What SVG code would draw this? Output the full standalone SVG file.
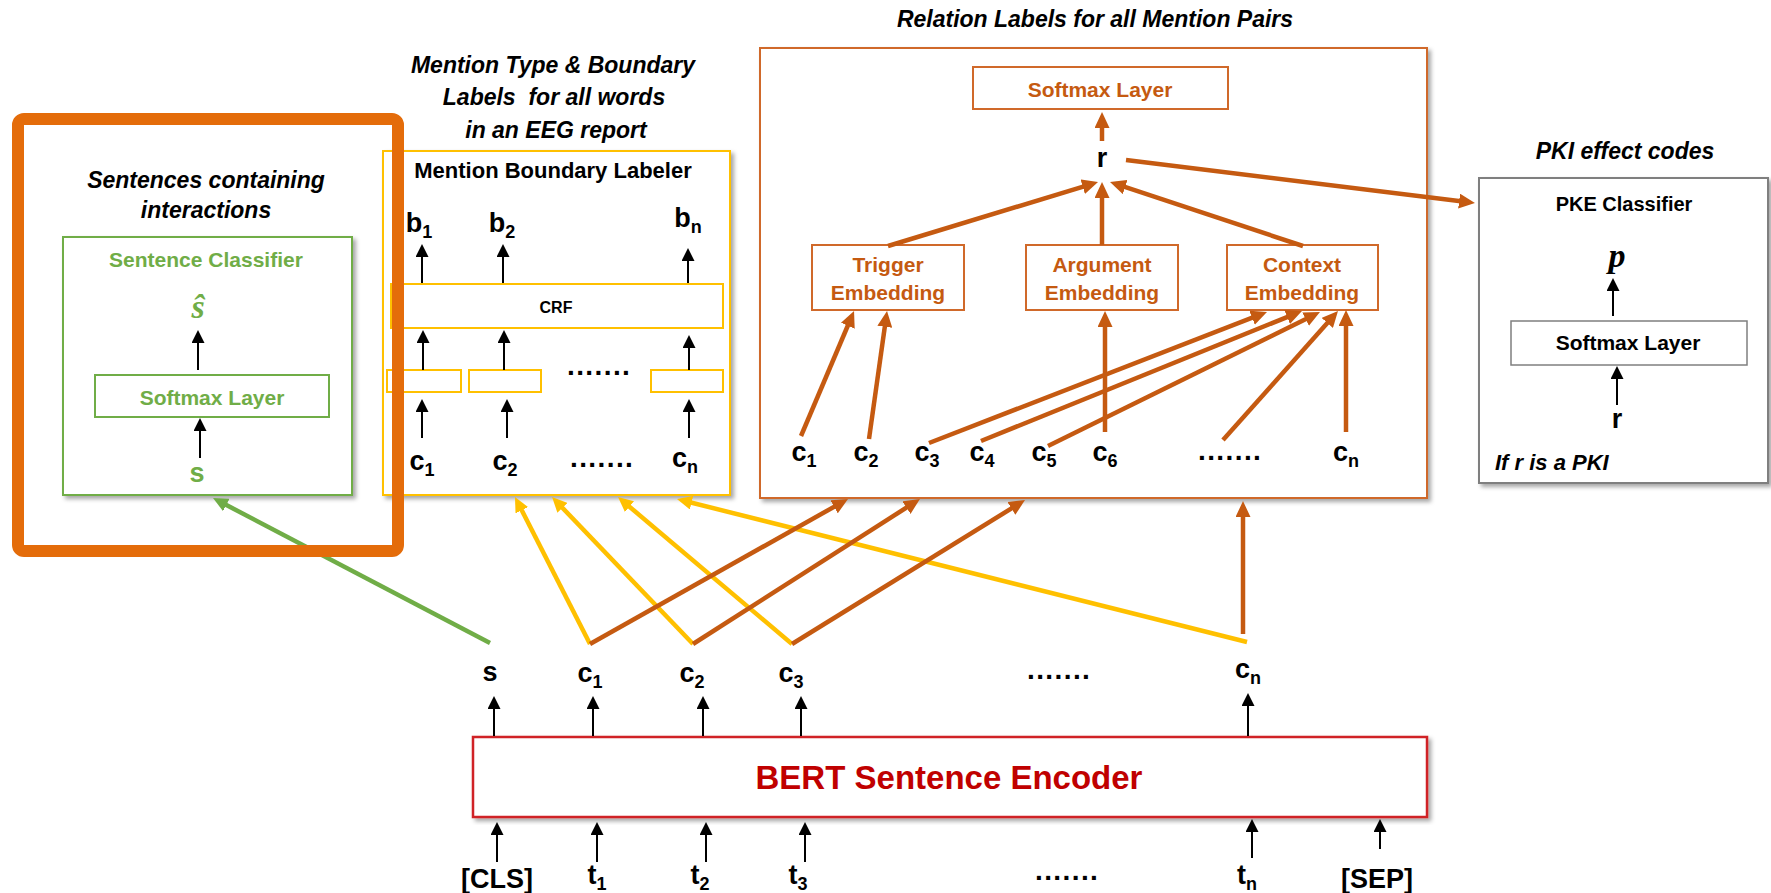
<svg xmlns="http://www.w3.org/2000/svg" width="1771" height="893" viewBox="0 0 1771 893">
  <style>
    text { font-family: "Liberation Sans", Arial, sans-serif; font-weight: bold; }
    .mid { text-anchor: middle; }
    .title { font-style: italic; font-size: 23px; fill: #000; text-anchor: middle; }
    .lbl { font-size: 27px; fill: #000; text-anchor: middle; }
    .sub { font-size: 18px; }
    .dots { font-size: 28px; letter-spacing: 1.4px; fill: #000; }
    .box { fill: #fff; }
    .green { stroke: #70AD47; }
    .yellow { stroke: #FFC000; }
    .rust { stroke: #D0692A; }
    .gray { stroke: #7F7F7F; }
    .blk { stroke: #000; stroke-width: 2; fill: none; marker-end: url(#ahBlack); }
    .orn { stroke: #C55A11; stroke-width: 4.5; fill: none; marker-end: url(#ahRust); }
    .ylw { stroke: #FFC000; stroke-width: 4.5; fill: none; marker-end: url(#ahYellow); }
    .grn { stroke: #70AD47; stroke-width: 4.5; fill: none; marker-end: url(#ahGreen); }
    .serif { font-family: "Liberation Serif", "Times New Roman", serif; font-style: italic; }
  </style>
  <defs>
    <filter id="shadow" x="-5%" y="-5%" width="115%" height="115%">
      <feDropShadow dx="3" dy="3" stdDeviation="2" flood-color="#000" flood-opacity="0.35"/>
    </filter>
    <marker id="ahBlack" markerUnits="userSpaceOnUse" markerWidth="13" markerHeight="13" refX="10" refY="6.5" orient="auto">
      <path d="M0,0 L13,6.5 L0,13 z" fill="#000"/>
    </marker>
    <marker id="ahRust" markerUnits="userSpaceOnUse" markerWidth="16" markerHeight="15" refX="10" refY="7.5" orient="auto">
      <path d="M0,0 L16,7.5 L0,15 z" fill="#C55A11"/>
    </marker>
    <marker id="ahYellow" markerUnits="userSpaceOnUse" markerWidth="15" markerHeight="14" refX="9" refY="7" orient="auto">
      <path d="M0,0 L15,7 L0,14 z" fill="#FFC000"/>
    </marker>
    <marker id="ahGreen" markerUnits="userSpaceOnUse" markerWidth="15" markerHeight="14" refX="9" refY="7" orient="auto">
      <path d="M0,0 L15,7 L0,14 z" fill="#70AD47"/>
    </marker>
  </defs>

  <rect width="1771" height="893" fill="#fff"/>

  <!-- Sentence classifier -->
  <g id="sentence-classifier">
    <text class="title" x="206" y="188">Sentences containing</text>
    <text class="title" x="206" y="218">interactions</text>
    <rect class="box green" x="63" y="237" width="289" height="258" stroke-width="2" filter="url(#shadow)"/>
    <text class="mid" x="206" y="267" font-size="21" fill="#70AD47">Sentence Classifier</text>
    <text class="mid serif" x="198" y="318" font-size="34" fill="#70AD47">ŝ</text>
    <rect class="box green" x="95" y="375" width="234" height="42" stroke-width="2"/>
    <text class="mid" x="212" y="405" font-size="21" fill="#70AD47">Softmax Layer</text>
    <text class="mid" x="197" y="482" font-size="27" fill="#70AD47">s</text>
  </g>

  <!-- Mention boundary labeler -->
  <g id="mention-labeler">
    <text class="title" x="553" y="73">Mention Type &amp; Boundary</text>
    <text class="title" x="554" y="105" xml:space="preserve">Labels  for all words</text>
    <text class="title" x="556" y="138">in an EEG report</text>
    <rect class="box yellow" x="383" y="151" width="347" height="344" stroke-width="2" filter="url(#shadow)"/>
    <text class="mid" x="553" y="178" font-size="22" fill="#000">Mention Boundary Labeler</text>
    <text class="lbl" x="419" y="232">b<tspan class="sub" dy="6">1</tspan></text>
    <text class="lbl" x="502" y="232">b<tspan class="sub" dy="6">2</tspan></text>
    <text class="lbl" x="688" y="227">b<tspan class="sub" dy="6">n</tspan></text>
    <rect class="box yellow" x="391" y="284" width="332" height="44" stroke-width="2"/>
    <text class="mid" x="556" y="313" font-size="16" fill="#000">CRF</text>
    <rect class="box yellow" x="387" y="370" width="74" height="22" stroke-width="2"/>
    <rect class="box yellow" x="469" y="370" width="72" height="22" stroke-width="2"/>
    <rect class="box yellow" x="651" y="370" width="72" height="22" stroke-width="2"/>
    <text class="dots" x="567" y="375">.......</text>
    <text class="lbl" x="422" y="470">c<tspan class="sub" dy="6">1</tspan></text>
    <text class="lbl" x="505" y="470">c<tspan class="sub" dy="6">2</tspan></text>
    <text class="dots" x="570" y="467">.......</text>
    <text class="lbl" x="685" y="467">c<tspan class="sub" dy="6">n</tspan></text>
  </g>

  <!-- Relation classifier -->
  <g id="relation-classifier">
    <text class="title" x="1095" y="27">Relation Labels for all Mention Pairs</text>
    <rect class="box rust" x="760" y="48" width="667" height="450" stroke-width="2" filter="url(#shadow)"/>
    <rect class="box rust" x="973" y="67" width="255" height="42" stroke-width="2"/>
    <text class="mid" x="1100" y="97" font-size="21" fill="#C55A11">Softmax Layer</text>
    <text class="lbl" x="1102" y="167">r</text>
    <rect class="box rust" x="812" y="245" width="152" height="65" stroke-width="2"/>
    <text class="mid" x="888" y="272" font-size="21" fill="#C55A11">Trigger</text>
    <text class="mid" x="888" y="300" font-size="21" fill="#C55A11">Embedding</text>
    <rect class="box rust" x="1026" y="245" width="152" height="65" stroke-width="2"/>
    <text class="mid" x="1102" y="272" font-size="21" fill="#C55A11">Argument</text>
    <text class="mid" x="1102" y="300" font-size="21" fill="#C55A11">Embedding</text>
    <rect class="box rust" x="1227" y="245" width="151" height="65" stroke-width="2"/>
    <text class="mid" x="1302" y="272" font-size="21" fill="#C55A11">Context</text>
    <text class="mid" x="1302" y="300" font-size="21" fill="#C55A11">Embedding</text>
    <text class="lbl" x="804" y="461">c<tspan class="sub" dy="6">1</tspan></text>
    <text class="lbl" x="866" y="461">c<tspan class="sub" dy="6">2</tspan></text>
    <text class="lbl" x="927" y="461">c<tspan class="sub" dy="6">3</tspan></text>
    <text class="lbl" x="982" y="461">c<tspan class="sub" dy="6">4</tspan></text>
    <text class="lbl" x="1044" y="461">c<tspan class="sub" dy="6">5</tspan></text>
    <text class="lbl" x="1105" y="461">c<tspan class="sub" dy="6">6</tspan></text>
    <text class="dots" x="1198" y="460">.......</text>
    <text class="lbl" x="1346" y="461">c<tspan class="sub" dy="6">n</tspan></text>
  </g>

  <!-- PKI effect classifier -->
  <g id="pke-classifier">
    <text class="title" x="1625" y="159">PKI effect codes</text>
    <rect class="box gray" x="1479" y="178" width="289" height="305" stroke-width="2" filter="url(#shadow)"/>
    <text class="mid" x="1624" y="211" font-size="20" fill="#000">PKE Classifier</text>
    <text class="mid serif" x="1617" y="267" font-size="34" fill="#000">p</text>
    <rect class="box gray" x="1511" y="321" width="236" height="44" stroke-width="1.5"/>
    <text class="mid" x="1628" y="350" font-size="21" fill="#000">Softmax Layer</text>
    <text class="lbl" x="1617" y="428">r</text>
    <text x="1495" y="470" font-size="22" font-style="italic" fill="#000">If r is a PKI</text>
  </g>

  <!-- BERT encoder with its outputs and inputs -->
  <g id="bert-encoder">
    <rect class="box" x="473" y="737" width="954" height="80" stroke="#D02028" stroke-width="2.5" filter="url(#shadow)"/>
    <text class="mid" x="949" y="789" font-size="33" fill="#C00000">BERT Sentence Encoder</text>
  </g>
  <g id="encoder-outputs">
    <text class="lbl" x="490" y="681">s</text>
    <text class="lbl" x="590" y="682">c<tspan class="sub" dy="6">1</tspan></text>
    <text class="lbl" x="692" y="682">c<tspan class="sub" dy="6">2</tspan></text>
    <text class="lbl" x="791" y="682">c<tspan class="sub" dy="6">3</tspan></text>
    <text class="dots" x="1027" y="679">.......</text>
    <text class="lbl" x="1248" y="678">c<tspan class="sub" dy="6">n</tspan></text>
  </g>
  <g id="encoder-inputs">
    <text class="lbl" x="497" y="888" font-size="24">[CLS]</text>
    <text class="lbl" x="597" y="884">t<tspan class="sub" dy="6">1</tspan></text>
    <text class="lbl" x="700" y="884">t<tspan class="sub" dy="6">2</tspan></text>
    <text class="lbl" x="798" y="884">t<tspan class="sub" dy="6">3</tspan></text>
    <text class="dots" x="1035" y="880">.......</text>
    <text class="lbl" x="1247" y="884">t<tspan class="sub" dy="6">n</tspan></text>
    <text class="lbl" x="1377" y="888" font-size="24">[SEP]</text>
  </g>

  <g id="connectors">
    <!-- sentence classifier internals -->
    <line class="blk" x1="198" y1="370" x2="198" y2="333"/>
    <line class="blk" x1="200" y1="458" x2="200" y2="421"/>
    <!-- mention labeler internals -->
    <line class="blk" x1="422" y1="283" x2="422" y2="247"/>
    <line class="blk" x1="503" y1="283" x2="503" y2="247"/>
    <line class="blk" x1="688" y1="283" x2="688" y2="251"/>
    <line class="blk" x1="423" y1="370" x2="423" y2="333"/>
    <line class="blk" x1="504" y1="370" x2="504" y2="333"/>
    <line class="blk" x1="689" y1="370" x2="689" y2="338"/>
    <line class="blk" x1="422" y1="438" x2="422" y2="402"/>
    <line class="blk" x1="507" y1="438" x2="507" y2="402"/>
    <line class="blk" x1="689" y1="438" x2="689" y2="402"/>
    <!-- PKE internals -->
    <line class="blk" x1="1613" y1="316" x2="1613" y2="281"/>
    <line class="blk" x1="1617" y1="405" x2="1617" y2="369"/>
    <!-- encoder outputs -->
    <line class="blk" x1="494" y1="736" x2="494" y2="699"/>
    <line class="blk" x1="593" y1="736" x2="593" y2="699"/>
    <line class="blk" x1="703" y1="736" x2="703" y2="699"/>
    <line class="blk" x1="801" y1="736" x2="801" y2="699"/>
    <line class="blk" x1="1248" y1="736" x2="1248" y2="696"/>
    <!-- encoder inputs -->
    <line class="blk" x1="497" y1="862" x2="497" y2="825"/>
    <line class="blk" x1="597" y1="862" x2="597" y2="825"/>
    <line class="blk" x1="706" y1="862" x2="706" y2="825"/>
    <line class="blk" x1="805" y1="862" x2="805" y2="825"/>
    <line class="blk" x1="1252" y1="858" x2="1252" y2="822"/>
    <line class="blk" x1="1380" y1="849" x2="1380" y2="822"/>

    <!-- token vectors to the mention labeler -->
    <line class="ylw" x1="590" y1="644" x2="517.7" y2="502.3"/>
    <line class="ylw" x1="693" y1="644" x2="556.2" y2="501.3"/>
    <line class="ylw" x1="792" y1="644" x2="622.6" y2="500.9"/>
    <line class="ylw" x1="1247" y1="642" x2="682.8" y2="500.5"/>

    <!-- sentence vector to the sentence classifier -->
    <line class="grn" x1="490" y1="643" x2="218.3" y2="500.8"/>

    <!-- token vectors to the relation classifier -->
    <line class="orn" x1="590" y1="644" x2="842.8" y2="501.9"/>
    <line class="orn" x1="693" y1="644" x2="914.9" y2="502.2"/>
    <line class="orn" x1="792" y1="644" x2="1019.9" y2="503.2"/>
    <line class="orn" x1="1243" y1="634" x2="1243" y2="507"/>

    <!-- relation classifier internals -->
    <line class="orn" x1="1102" y1="141" x2="1102" y2="118"/>
    <line class="orn" x1="888" y1="246" x2="1092.3" y2="183.8"/>
    <line class="orn" x1="1102" y1="245" x2="1102" y2="188"/>
    <line class="orn" x1="1303" y1="246" x2="1115.7" y2="183.9"/>
    <line class="orn" x1="801" y1="436" x2="851.7" y2="316.5"/>
    <line class="orn" x1="869" y1="439" x2="886.2" y2="316.9"/>
    <line class="orn" x1="1105" y1="432" x2="1105" y2="317"/>
    <line class="orn" x1="929" y1="443" x2="1261.4" y2="314.2"/>
    <line class="orn" x1="981" y1="441" x2="1296.4" y2="313.3"/>
    <line class="orn" x1="1048" y1="446" x2="1314.6" y2="314.7"/>
    <line class="orn" x1="1223" y1="440" x2="1334" y2="315.5"/>
    <line class="orn" x1="1346" y1="432" x2="1346" y2="316"/>

    <!-- relation to PKI effect classifier -->
    <line class="orn" x1="1126" y1="160" x2="1469" y2="202.3"/>
  </g>

  <!-- highlight frame around the sentence classifier -->
  <g id="highlight">
    <rect x="18" y="119" width="380" height="432" rx="6" fill="none" stroke="#E46C0A" stroke-width="12"/>
  </g>
</svg>
